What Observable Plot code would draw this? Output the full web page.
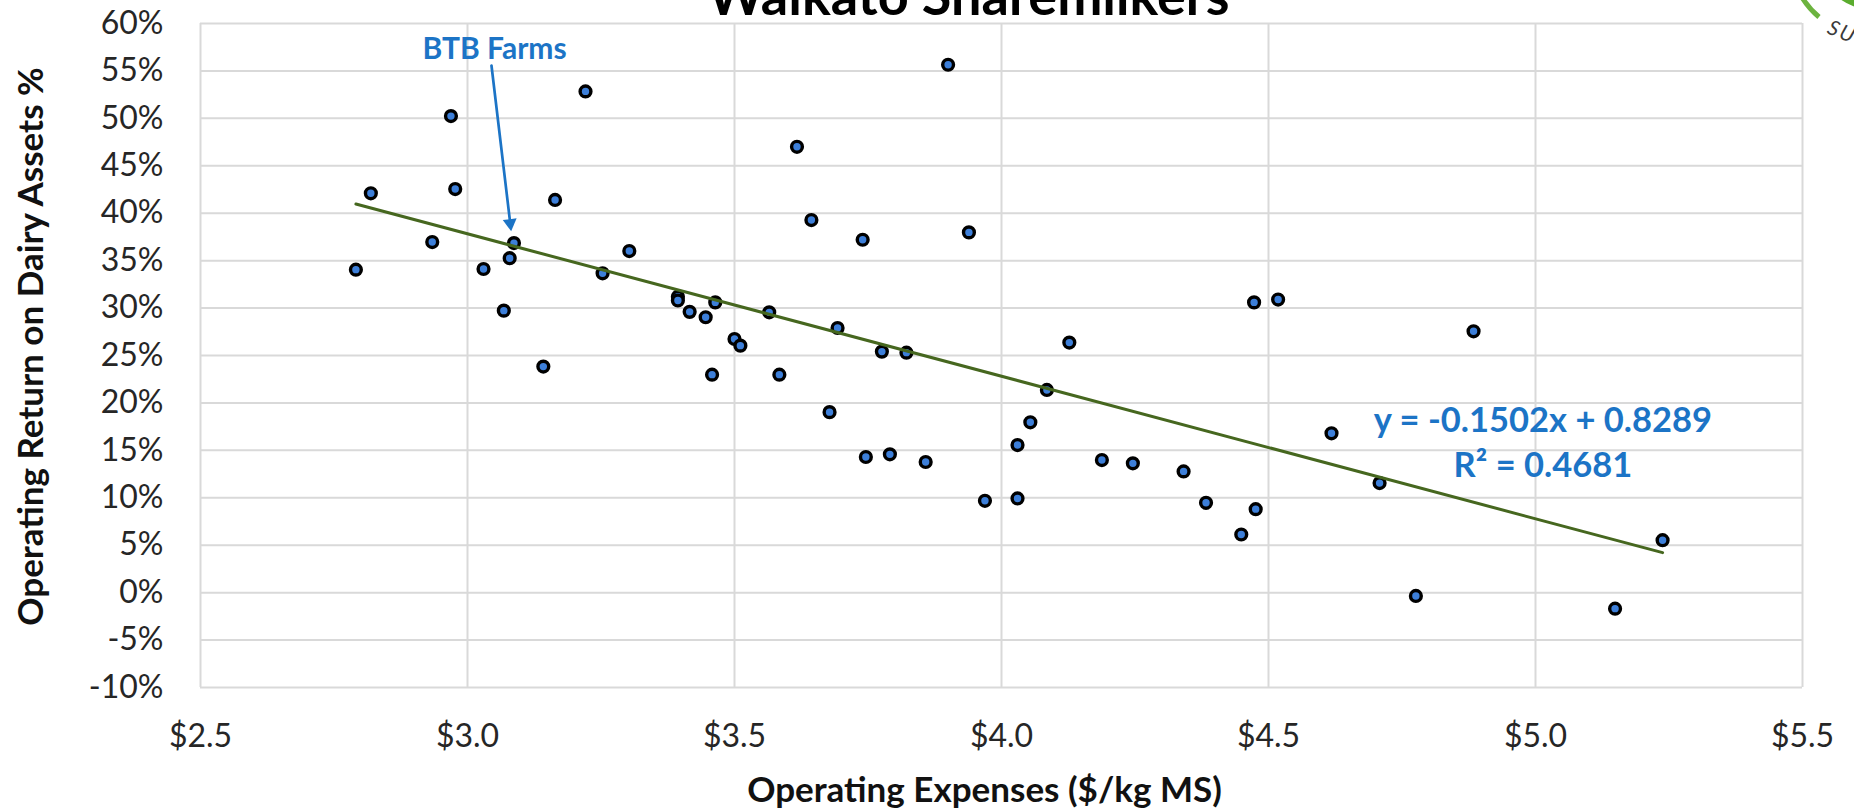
<!DOCTYPE html>
<html>
<head>
<meta charset="utf-8">
<script src="https://cdn.jsdelivr.net/npm/d3@7"></script>
<script src="https://cdn.jsdelivr.net/npm/@observablehq/plot@0.6"></script>
<style>
  html, body { margin: 0; padding: 0; background: #fff; }
  #wrap { position: relative; width: 1854px; height: 812px; overflow: hidden; background: #fff; }
  #logo { position: absolute; left: 0; top: 0; }
</style>
</head>
<body>
<div id="wrap"></div>
<script>
// ---- Data ----
const opex = [2.791, 2.819, 2.934, 2.969, 2.977, 3.030, 3.068, 3.079, 3.087, 3.142,
  3.164, 3.221, 3.253, 3.303, 3.394, 3.394, 3.416, 3.446, 3.464, 3.500,
  3.511, 3.458, 3.565, 3.584, 3.617, 3.644, 3.678, 3.693, 3.740, 3.776,
  3.822, 3.900, 3.939, 4.085, 4.127, 4.473, 4.518, 4.884, 4.054, 4.030,
  3.746, 3.791, 3.858, 3.969, 4.030, 4.188, 4.246, 4.341, 4.383, 4.476,
  4.449, 4.618, 4.708, 4.776, 5.149, 5.238];
const roda = [0.3405, 0.4210, 0.3696, 0.5024, 0.4255, 0.3412, 0.2973, 0.3526, 0.3685, 0.2383,
  0.4140, 0.5284, 0.3366, 0.3601, 0.3120, 0.3080, 0.2960, 0.2903, 0.3060, 0.2674,
  0.2604, 0.2298, 0.2955, 0.2298, 0.4700, 0.3928, 0.1903, 0.2790, 0.3720, 0.2541,
  0.2530, 0.5565, 0.3798, 0.2137, 0.2636, 0.3060, 0.3090, 0.2755, 0.1796, 0.1556,
  0.1430, 0.1458, 0.1377, 0.0968, 0.0993, 0.1398, 0.1363, 0.1278, 0.0947, 0.0880,
  0.0613, 0.1680, 0.1155, -0.0035, -0.0169, 0.0553];

const xTicks = [2.5, 3.0, 3.5, 4.0, 4.5, 5.0, 5.5];
const yTicks = [-0.10, -0.05, 0, 0.05, 0.10, 0.15, 0.20, 0.25, 0.30, 0.35, 0.40, 0.45, 0.50, 0.55, 0.60];

const slope = -0.1502;
const intercept = 0.8289;

const titleText = ["Waikato Sharemilkers"];
const xLabel = ["Operating Expenses ($/kg MS)"];
const yLabel = ["Operating Return on Dairy Assets %"];

const btbLabel = [{x: 3.0506, y: 0.5621, text: "BTB Farms"}];
const btbArrow = [{x1: 3.0449, y1: 0.5557, x2: 3.0818, y2: 0.381}];
const eqLabels = [
  {x: 5.014, y: 0.1698, text: "y = -0.1502x + 0.8289"},
  {x: 5.014, y: 0.1216, text: "R\u00B2 = 0.4681"}
];

// ---- Build ----
const points = opex.map((x, i) => ({x, y: roda[i]}));
const [xMin, xMax] = d3.extent(opex);
const trend = [xMin, xMax].map(x => ({x, y: slope * x + intercept}));

const blue = "#1c74c6";
const font = "Lato, 'Open Sans', sans-serif";

const chart = Plot.plot({
  width: 1854,
  height: 812,
  marginLeft: 200,
  marginRight: 52,
  marginTop: 23,
  marginBottom: 125,
  style: {fontFamily: font, background: "white", overflow: "visible"},
  x: {domain: [2.5, 5.5]},
  y: {domain: [-0.10, 0.60]},
  marks: [
    Plot.gridX(xTicks, {stroke: "#d9d9d9", strokeOpacity: 1, strokeWidth: 2}),
    Plot.gridY(yTicks, {stroke: "#d9d9d9", strokeOpacity: 1, strokeWidth: 2}),
    Plot.axisX(xTicks, {tickSize: 0, tickPadding: 37, fontSize: 32, fill: "#262626",
      tickFormat: d => "$" + d.toFixed(1), label: null}),
    Plot.axisY(yTicks, {tickSize: 0, tickPadding: 37, fontSize: 32, fill: "#262626",
      tickFormat: d => Math.round(d * 100) + "%", label: null}),
    Plot.dot(points, {x: "x", y: "y", r: 5.4, fill: "#3d7fd9", stroke: "#000", strokeWidth: 3.4}),
    Plot.line(trend, {x: "x", y: "y", stroke: "#46671f", strokeWidth: 3}),
    Plot.arrow(btbArrow, {x1: "x1", y1: "y1", x2: "x2", y2: "y2", stroke: blue, strokeWidth: 2.7,
      headLength: 0, insetEnd: 9}),
    Plot.dot(btbArrow, {x: "x2", y: "y2", symbol: "triangle", r: 5.2, rotate: 173,
      fill: blue, stroke: "none", dx: -1, dy: -8}),
    Plot.text(btbLabel, {x: "x", y: "y", text: "text", fill: blue, fontSize: 30,
      fontWeight: "bold", lineAnchor: "bottom", textAnchor: "middle"}),
    Plot.text(eqLabels, {x: "x", y: "y", text: "text", fill: blue, fontSize: 34.5,
      fontWeight: "bold", lineAnchor: "bottom", textAnchor: "middle"}),
    Plot.text(titleText, {frameAnchor: "top", text: d => d, dx: -33, dy: -9, lineAnchor: "bottom",
      textAnchor: "middle", fontSize: 54, fontWeight: "bold", fill: "#000"}),
    Plot.text(xLabel, {frameAnchor: "bottom", text: d => d, dx: -17, dy: 114, lineAnchor: "bottom",
      textAnchor: "middle", fontSize: 35, fontWeight: "bold", fill: "#111"}),
    Plot.text(yLabel, {frameAnchor: "left", text: d => d, rotate: -90, dx: -157.5, dy: -9,
      lineAnchor: "bottom", textAnchor: "middle", fontSize: 35, fontWeight: "bold", fill: "#111"})
  ]
});

const wrap = document.getElementById("wrap");
wrap.appendChild(chart);

// decorative cropped logo in the top-right corner
const ns = "http://www.w3.org/2000/svg";
const logo = document.createElementNS(ns, "svg");
logo.setAttribute("id", "logo");
logo.setAttribute("width", "1854");
logo.setAttribute("height", "60");
logo.innerHTML = `
  <circle cx="1874" cy="-48" r="58" fill="#5aac2e"/>
  <path d="M1799,-8 A80,80 0 0 0 1819,17" fill="none" stroke="#6cb33f" stroke-width="5"/>
  <text x="1826" y="33" transform="rotate(22 1826 33)" font-family="${font}" font-style="italic"
    font-size="21" fill="#3a3a3a" letter-spacing="2">SU</text>`;
wrap.appendChild(logo);
</script>
</body>
</html>
